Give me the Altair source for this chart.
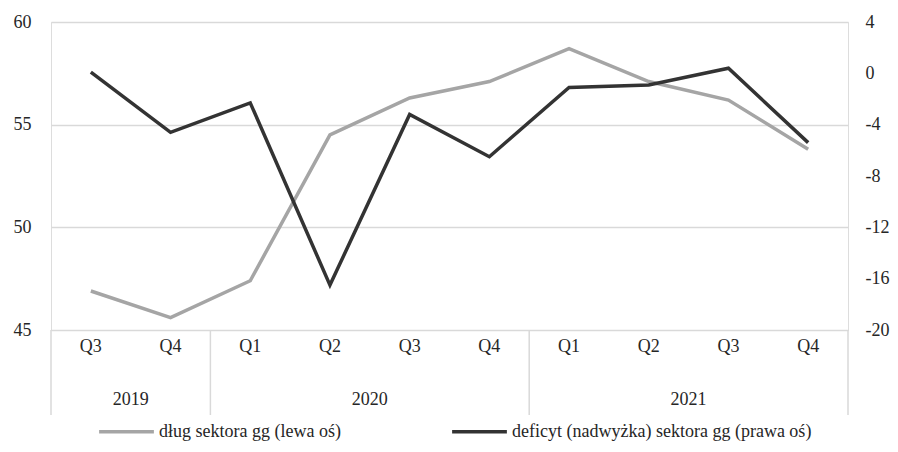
import json
import altair as alt
import pandas as pd

quarters = ["Q3", "Q4", "Q1", "Q2", "Q3", "Q4", "Q1", "Q2", "Q3", "Q4"]
years = ["2019", "2019", "2020", "2020", "2020", "2020", "2021", "2021", "2021", "2021"]
debt = [46.9, 45.6, 47.4, 54.5, 56.3, 57.1, 58.7, 57.1, 56.2, 53.8]
deficit = [0.1, -4.6, -2.3, -16.5, -3.2, -6.5, -1.1, -0.9, 0.4, -5.4]
left_ticks = [45, 50, 55, 60]
right_ticks = [-20, -16, -12, -8, -4, 0, 4]
series_names = ["dług sektora gg (lewa oś)", "deficyt (nadwyżka) sektora gg  (prawa oś)"]
series_colors = ["#a5a5a5", "#333333"]

FONT = "Liberation Serif"
FS = 18
TXT = "#262626"
GRID = "#d9d9d9"
W, H = 797, 308

n = len(quarters)
df = pd.DataFrame({
    "pos": [i + 0.5 for i in range(n)],
    "quarter": quarters,
    "year": years,
    "debt": debt,
    "deficit": deficit,
})
yr = df.groupby("year", sort=False)["pos"].agg(["min", "max"]).reset_index()
yr["center"] = (yr["min"] + yr["max"]) / 2
bounds = pd.DataFrame({"b": [v - 0.5 for v in yr["min"]] + [yr["max"].iloc[-1] + 0.5]})

xs = alt.Scale(domain=[0, n], nice=False, zero=False)
color_scale = alt.Scale(domain=series_names, range=series_colors)
hyphen = "datum.value < 0 ? '-' + abs(datum.value) : '' + datum.value"

legend = alt.Legend(
    title=None, orient="none", direction="horizontal", legendX=46, legendY=380,
    symbolType="stroke", symbolSize=3000, symbolStrokeWidth=3.5,
    labelFont=FONT, labelFontSize=FS, labelColor=TXT, labelLimit=600,
    labelOffset=3, columnPadding=104, padding=0,
)

debt_line = alt.Chart(df).transform_calculate(
    series=json.dumps(series_names[0])
).mark_line(strokeWidth=3.5).encode(
    x=alt.X("pos:Q", scale=xs, axis=None),
    y=alt.Y("debt:Q", scale=alt.Scale(domain=[45, 60], nice=False, zero=False),
            axis=alt.Axis(values=left_ticks, grid=True, gridColor=GRID, gridWidth=1.5,
                          domain=False, ticks=False, labelPadding=20, title=None,
                          labelFont=FONT, labelFontSize=FS, labelColor=TXT)),
    color=alt.Color("series:N", scale=color_scale, legend=legend),
)

deficit_line = alt.Chart(df).transform_calculate(
    series=json.dumps(series_names[1])
).mark_line(strokeWidth=3.5).encode(
    x=alt.X("pos:Q", scale=xs, axis=None),
    y=alt.Y("deficit:Q", scale=alt.Scale(domain=[-20, 4], nice=False, zero=False),
            axis=alt.Axis(orient="right", values=right_ticks, grid=False, domain=False,
                          ticks=False, labelPadding=17, title=None, labelAlign="left",
                          labelExpr=hyphen,
                          labelFont=FONT, labelFontSize=FS, labelColor=TXT)),
    color=alt.Color("series:N", scale=color_scale, legend=legend),
)

q_text = alt.Chart(df).mark_text(font=FONT, fontSize=FS, color=TXT, baseline="middle").encode(
    x=alt.X("pos:Q", scale=xs, axis=None),
    y=alt.value(H + 17),
    text="quarter:N",
)

y_text = alt.Chart(yr).mark_text(font=FONT, fontSize=FS, color=TXT, baseline="middle").encode(
    x=alt.X("center:Q", scale=xs, axis=None),
    y=alt.value(H + 70),
    text="year:N",
)

seps = alt.Chart(bounds).mark_rule(color=GRID, strokeWidth=1.5).encode(
    x=alt.X("b:Q", scale=xs, axis=None),
    y=alt.value(H),
    y2=alt.value(H + 85),
)

chart = alt.layer(seps, q_text, y_text, debt_line, deficit_line).resolve_scale(
    y="independent"
).properties(
    width=W, height=H,
    autosize=alt.AutoSizeParams(type="none"),
    padding={"left": 43, "top": 14, "right": 42, "bottom": 114},
).configure_view(stroke=None).configure_legend(
    labelFont=FONT, labelFontSize=FS, labelColor=TXT
).configure(font=FONT)

chart.save("out.html", embed_options={"renderer": "svg", "actions": False})
